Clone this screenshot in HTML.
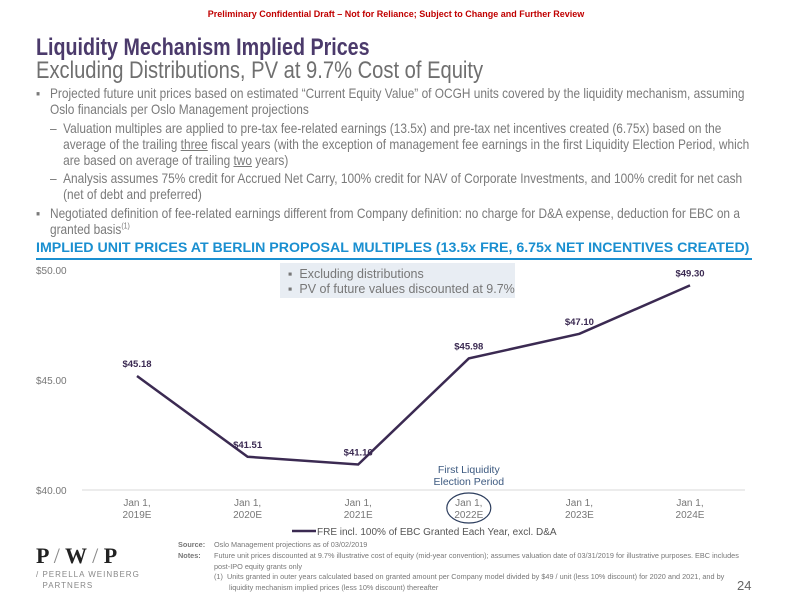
<!DOCTYPE html>
<html><head><meta charset="utf-8"><style>
body{margin:0;width:792px;height:612px;background:#fff;font-family:"Liberation Sans",sans-serif;position:relative;overflow:hidden}
div{position:absolute;white-space:nowrap}
.b{color:#7a7a7a;font-size:13.6px;line-height:16px;transform:scaleX(0.874);transform-origin:0 0}
</style></head><body>
<div style="left:0;width:792px;text-align:center;top:9px;font-size:9px;font-weight:bold;color:#c00000">Preliminary Confidential Draft – Not for Reliance; Subject to Change and Further Review</div>
<div style="left:36px;top:34px;font-size:24px;font-weight:bold;color:#4b3a6b;transform:scaleX(0.82);transform-origin:0 0">Liquidity Mechanism Implied Prices</div>
<div style="left:36px;top:57px;font-size:24px;color:#6f6f6f;transform:scaleX(0.84);transform-origin:0 0">Excluding Distributions, PV at 9.7% Cost of Equity</div>
<div class="b" style="left:36px;top:86px">
<div style="left:0;top:0">▪</div><div style="left:16px;top:0">Projected future unit prices based on estimated “Current Equity Value” of OCGH units covered by the liquidity mechanism, assuming<br>Oslo financials per Oslo Management projections</div>
<div style="left:16px;top:35px">–</div><div style="left:31px;top:35px">Valuation multiples are applied to pre-tax fee-related earnings (13.5x) and pre-tax net incentives created (6.75x) based on the<br>average of the trailing <u>three</u> fiscal years (with the exception of management fee earnings in the first Liquidity Election Period, which<br>are based on average of trailing <u>two</u> years)</div>
<div style="left:16px;top:85px">–</div><div style="left:31px;top:85px">Analysis assumes 75% credit for Accrued Net Carry, 100% credit for NAV of Corporate Investments, and 100% credit for net cash<br>(net of debt and preferred)</div>
<div style="left:0;top:120px">▪</div><div style="left:16px;top:120px">Negotiated definition of fee-related earnings different from Company definition: no charge for D&amp;A expense, deduction for EBC on a<br>granted basis<sup style="font-size:8px;line-height:0">(1)</sup></div>
</div>
<div style="left:36px;top:240px;font-size:14.2px;font-weight:bold;color:#1a8fd0">IMPLIED UNIT PRICES AT BERLIN PROPOSAL MULTIPLES (13.5x FRE, 6.75x NET INCENTIVES CREATED)</div>
<div style="left:36px;top:258px;width:716px;height:1.5px;background:#1a8fd0"></div>
<div style="left:280px;top:263px;width:235px;height:35px;background:#e8edf3;font-size:12.5px;color:#777;line-height:15px">
<div style="left:8px;top:4px">▪&nbsp;&nbsp;Excluding distributions</div><div style="left:8px;top:19px">▪&nbsp;&nbsp;PV of future values discounted at 9.7%</div></div>
<svg style="position:absolute;left:0;top:0" width="792" height="612" font-family="Liberation Sans, sans-serif"><g id="g"></g></svg>
<div style="left:178px;top:540px;font-size:7.3px;color:#777;line-height:10.5px">
<div style="left:0;top:0;font-weight:bold">Source:</div><div style="left:36px;top:0">Oslo Management projections as of 03/02/2019</div>
<div style="left:0;top:11px;font-weight:bold">Notes:</div><div style="left:36px;top:11px">Future unit prices discounted at 9.7% illustrative cost of equity (mid-year convention); assumes valuation date of 03/31/2019 for illustrative purposes. EBC includes<br>post-IPO equity grants only</div>
<div style="left:36px;top:32px">(1)&nbsp; Units granted in outer years calculated based on granted amount per Company model divided by $49 / unit (less 10% discount) for 2020 and 2021, and by<br><span style="padding-left:15px">liquidity mechanism implied prices (less 10% discount) thereafter</span></div></div>
<div style="left:36px;top:543px;font-family:'Liberation Serif',serif;font-size:22px;font-weight:bold;color:#222">P <span style="font-weight:normal;color:#888">/</span> W <span style="font-weight:normal;color:#888">/</span> P</div>
<div style="left:36px;top:569px;font-size:8px;color:#888;letter-spacing:1px;line-height:11px">/ PERELLA WEINBERG<br>&nbsp;&nbsp;PARTNERS</div>
<div style="left:737px;top:578px;font-size:13px;color:#666">24</div>
<script>
const categories=["Jan 1,|2019E","Jan 1,|2020E","Jan 1,|2021E","Jan 1,|2022E","Jan 1,|2023E","Jan 1,|2024E"];
const values=[45.18,41.51,41.16,45.98,47.10,49.30];
const labels=["$45.18","$41.51","$41.16","$45.98","$47.10","$49.30"];
const yTicks=[40,45,50];
const yTickLabels=["$40.00","$45.00","$50.00"];
const NS="http://www.w3.org/2000/svg",g=document.getElementById('g');
const x=i=>137+i*110.6, y=v=>490-(v-40)*22;
function mk(t,a,txt){const e=document.createElementNS(NS,t);for(const k in a)e.setAttribute(k,a[k]);if(txt!=null)e.textContent=txt;g.appendChild(e);return e;}
yTicks.forEach((t,i)=>{const e=mk('text',{x:36,y:y(t)+4,'font-size':10,fill:'#777'},yTickLabels[i]);

});
const ax=mk('line',{x1:82,x2:745,y1:490,y2:490,stroke:'#d9d9d9','stroke-width':1});


categories.forEach((c,i)=>{const p=c.split('|');
const e=mk('text',{x:x(i),y:506,'font-size':10,fill:'#777','text-anchor':'middle'});


const t1=document.createElementNS(NS,'tspan');t1.setAttribute('x',x(i));t1.textContent=p[0];e.appendChild(t1);
const t2=document.createElementNS(NS,'tspan');t2.setAttribute('x',x(i));t2.setAttribute('dy',12);t2.textContent=p[1];e.appendChild(t2);});
const pl=mk('polyline',{points:values.map((v,i)=>x(i)+','+y(v)).join(' '),fill:'none',stroke:'#3b2a52','stroke-width':2.5});


values.forEach((v,i)=>{const e=mk('text',{x:x(i),y:y(v)-9,'font-size':9.5,'font-weight':'bold',fill:'#3b2a52','text-anchor':'middle'},labels[i]);

});
const el=mk('ellipse',{cx:x(3),cy:508,rx:22,ry:15,fill:'none',stroke:'#2d3e5e','stroke-width':1.2});


const an=mk('text',{x:x(3),y:473,'font-size':10.5,fill:'#3d5a80','text-anchor':'middle'},'First Liquidity');


const an2=mk('text',{x:x(3),y:485,'font-size':10.5,fill:'#3d5a80','text-anchor':'middle'},'Election Period');


const ll=mk('line',{x1:292,x2:316,y1:531,y2:531,stroke:'#3b2a52','stroke-width':2.5});


const lt=mk('text',{x:317,y:535,'font-size':10,fill:'#555'},'FRE incl. 100% of EBC Granted Each Year, excl. D&A');


</script>
</body></html>
